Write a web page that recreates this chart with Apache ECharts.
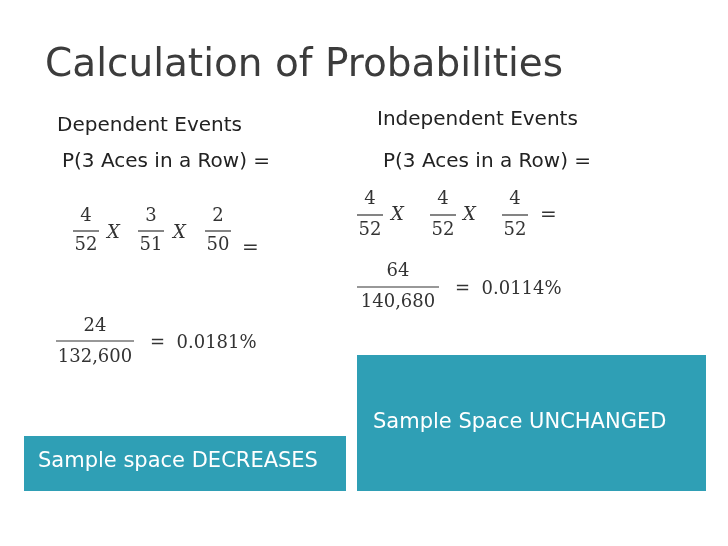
<!DOCTYPE html>
<html><head><meta charset="utf-8">
<script src="https://cdn.jsdelivr.net/npm/echarts@6/dist/echarts.min.js"></script>
<style>html,body{margin:0;padding:0;background:#fff}#c{width:728px;height:546px}</style>
</head><body><div id="c"></div>
<script>
const title = "Calculation of Probabilities";
const headings = ["Dependent Events", "Independent Events"];
const eqLabel = "P(3 Aces in a Row) =";
const depFractions = [["4","52"],["3","51"],["2","50"]];
const indFractions = [["4","52"],["4","52"],["4","52"]];
const depResult = ["24","132,600","0.0181%"];
const indResult = ["64","140,680","0.0114%"];
const boxLabels = ["Sample space DECREASES", "Sample Space UNCHANGED"];

const chart = echarts.init(document.getElementById('c'));
const sans = '"DejaVu Sans", sans-serif';
const serif = '"DejaVu Serif", serif';
const g = [];
function txt(x,y,t,size,opt){
  g.push({type:'text',x:x,y:y,style:{text:t,font:(opt&&opt.font)||(size+'px '+sans),fill:(opt&&opt.fill)||'#222',align:(opt&&opt.align)||'left',verticalAlign:'middle'}});
}
function frac(cx,ny,dy,ly,n,d,w){
  txt(cx,ny,n,18,{font:'18px '+serif,align:'center',fill:'#333'});
  txt(cx,dy,d,18,{font:'18px '+serif,align:'center',fill:'#333'});
  g.push({type:'line',shape:{x1:cx-w/2,y1:ly,x2:cx+w/2,y2:ly},style:{stroke:'#333',lineWidth:1.2}});
}
g.push({type:'text',x:45,y:66,style:{text:title,font:'39px '+sans,fill:'#3c3c3c',verticalAlign:'middle',shadowColor:'rgba(0,0,0,0.3)',shadowBlur:2,shadowOffsetX:2,shadowOffsetY:2}});
txt(57,126,headings[0],20);
txt(377,120,headings[1],20);
txt(62,162,eqLabel,20);
txt(383,162,eqLabel,20);
const depX=[86,151,218];
depFractions.forEach((f,i)=>frac(depX[i],216,245,231,f[0],f[1],26));
txt(107,233,'X',18,{font:'italic 18px '+serif,fill:'#333'});
txt(173,233,'X',18,{font:'italic 18px '+serif,fill:'#333'});
txt(242,249,'=',20,{font:'20px '+serif,fill:'#333'});
frac(95,326,357,341,depResult[0],depResult[1],78);
txt(150,343,'=  '+depResult[2],18,{font:'18px '+serif,fill:'#333'});
const indX=[370,443,515];
indFractions.forEach((f,i)=>frac(indX[i],199,230,215,f[0],f[1],26));
txt(391,215,'X',18,{font:'italic 18px '+serif,fill:'#333'});
txt(463,215,'X',18,{font:'italic 18px '+serif,fill:'#333'});
txt(540,216,'=',20,{font:'20px '+serif,fill:'#333'});
frac(398,271,302,287,indResult[0],indResult[1],82);
txt(455,289,'=  '+indResult[2],18,{font:'18px '+serif,fill:'#333'});
g.push({type:'rect',shape:{x:24,y:436,width:322,height:55},style:{fill:'#2f9fb5'}});
g.push({type:'rect',shape:{x:357,y:355,width:349,height:136},style:{fill:'#2f9fb5'}});
txt(38,462,boxLabels[0],21,{fill:'#fff'});
txt(373,423,boxLabels[1],21,{fill:'#fff'});
chart.setOption({animation:false,graphic:g});
</script></body></html>
